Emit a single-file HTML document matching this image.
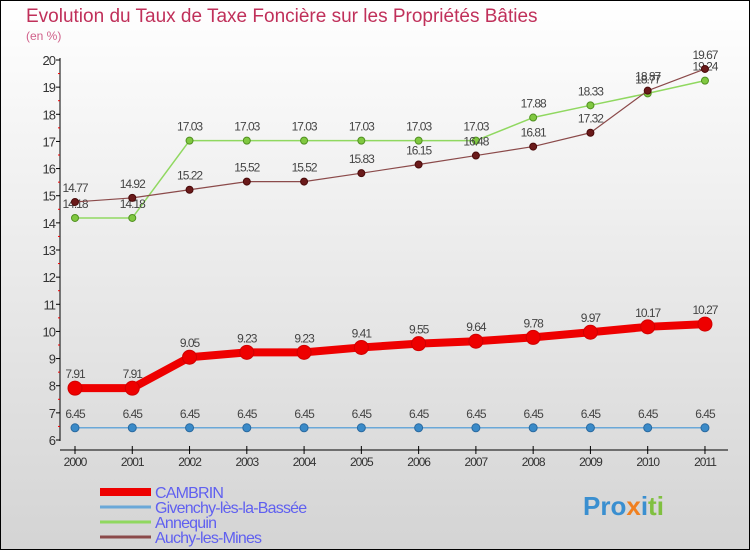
<!DOCTYPE html>
<html><head><meta charset="utf-8"><style>
body{margin:0}
#c{width:750px;height:550px;position:relative;overflow:hidden;font-family:"Liberation Sans",sans-serif}
</style></head><body>
<div id="c">
<svg id="s" width="750" height="550" xmlns="http://www.w3.org/2000/svg" font-family="Liberation Sans, sans-serif">
<defs><linearGradient id="bg" x1="0" y1="0" x2="0" y2="1"><stop offset="0" stop-color="#ffffff"/><stop offset="1" stop-color="#d4d4d4"/></linearGradient></defs>
<rect x="0.5" y="0.5" width="749" height="549" fill="url(#bg)" stroke="#000"/>
<text x="26" y="22" font-size="19" fill="#c0305a">Evolution du Taux de Taxe Foncière sur les Propriétés Bâties</text>
<text x="26" y="40" font-size="12" fill="#d0608a">(en %)</text>
<g id="axes"></g><g id="marks"></g>
<g id="legend"></g>
<text x="583" y="515" font-size="26" font-weight="bold"><tspan fill="#3a8fd0">Pro</tspan><tspan fill="#f08020">x</tspan><tspan fill="#3a8fd0">i</tspan><tspan fill="#80c040">ti</tspan></text>
</svg>
</div>
<script>
const years=["2000","2001","2002","2003","2004","2005","2006","2007","2008","2009","2010","2011"];
const cambrin=[7.91,7.91,9.05,9.23,9.23,9.41,9.55,9.64,9.78,9.97,10.17,10.27];
const givenchy=[6.45,6.45,6.45,6.45,6.45,6.45,6.45,6.45,6.45,6.45,6.45,6.45];
const annequin=[14.18,14.18,17.03,17.03,17.03,17.03,17.03,17.03,17.88,18.33,18.77,19.24];
const auchy=[14.77,14.92,15.22,15.52,15.52,15.83,16.15,16.48,16.81,17.32,18.87,19.67];
const yTicks=[6,7,8,9,10,11,12,13,14,15,16,17,18,19,20];
const seriesNames=["CAMBRIN","Givenchy-lès-la-Bassée","Annequin","Auchy-les-Mines"];
const NS="http://www.w3.org/2000/svg";
const X=i=>75+i*57.27, Y=v=>440-(v-6)*(380/14);
function mk(t,a,p){const e=document.createElementNS(NS,t);for(const k in a)e.setAttribute(k,a[k]);p.appendChild(e);return e;}
const ax=document.getElementById('axes'), mg=document.getElementById('marks'), lg=document.getElementById('legend');
let yl=mk('line',{x1:60,y1:58,x2:60,y2:441,stroke:'#000'},ax);


yTicks.forEach(v=>{
  mk('line',{x1:56,x2:60,y1:Y(v),y2:Y(v),stroke:'#000'},ax);
  if(v<20) mk('line',{x1:58,x2:60,y1:Y(v+0.5),y2:Y(v+0.5),stroke:'#e00'},ax);
  const t=mk('text',{x:55,y:Y(v)+5,'font-size':13,'text-anchor':'end',fill:'#333','letter-spacing':'-1'},ax);t.textContent=v;
  
  
});
let xl=mk('line',{x1:60,y1:450,x2:728,y2:450,stroke:'#000'},ax);


years.forEach((y,i)=>{
  mk('line',{x1:X(i),x2:X(i),y1:446,y2:454,stroke:'#000'},ax);
  const t=mk('text',{x:X(i),y:466,'font-size':12,'text-anchor':'middle',fill:'#333','letter-spacing':'-1'},ax);t.textContent=y;
  
  
});
function series(data,name,color,dot,lw,r,dotStroke){
  const g=mk('g',{},mg);
  
  
  mk('polyline',{points:data.map((v,i)=>X(i)+','+Y(v)).join(' '),fill:'none',stroke:color,'stroke-width':lw,'stroke-linejoin':'round'},g);
  data.forEach((v,i)=>{
    const c=mk('circle',{cx:X(i),cy:Y(v),r:r,fill:dot,stroke:dotStroke,'stroke-width':1},g);
    
    
    const t=mk('text',{x:X(i),y:Y(v)-10,'font-size':12,'text-anchor':'middle',fill:'#444','letter-spacing':'-1'},g);t.textContent=v.toFixed(2).replace(/0$/,'').replace(/\.$/,'');
    
    
  });
}
series(givenchy,'givenchy-series','#6aa8d8','#3a8ac8',1.5,4,'#2a6aa0');
series(annequin,'annequin-series','#90d860','#80c840',1.5,3.5,'#509020');
series(auchy,'auchy-series','#8b4a4a','#6a1a1a',1.2,3.5,'#4a0a0a');
series(cambrin,'cambrin-series','#ee0000','#ee0000',8,7,'#d00000');
const lc=[['#ee0000',8],['#6aa8d8',3],['#90d860',3],['#8b4a4a',3]];
seriesNames.forEach((n,i)=>{
  const y=492+i*15;
  const l=mk('line',{x1:100,x2:151,y1:y,y2:y,stroke:lc[i][0],'stroke-width':lc[i][1]},lg);
  
  
  const t=mk('text',{x:155,y:y+6,'font-size':16,fill:'#6060f0','letter-spacing':'-0.8'},lg);t.textContent=n;
  
  
});
</script>
</body></html>
